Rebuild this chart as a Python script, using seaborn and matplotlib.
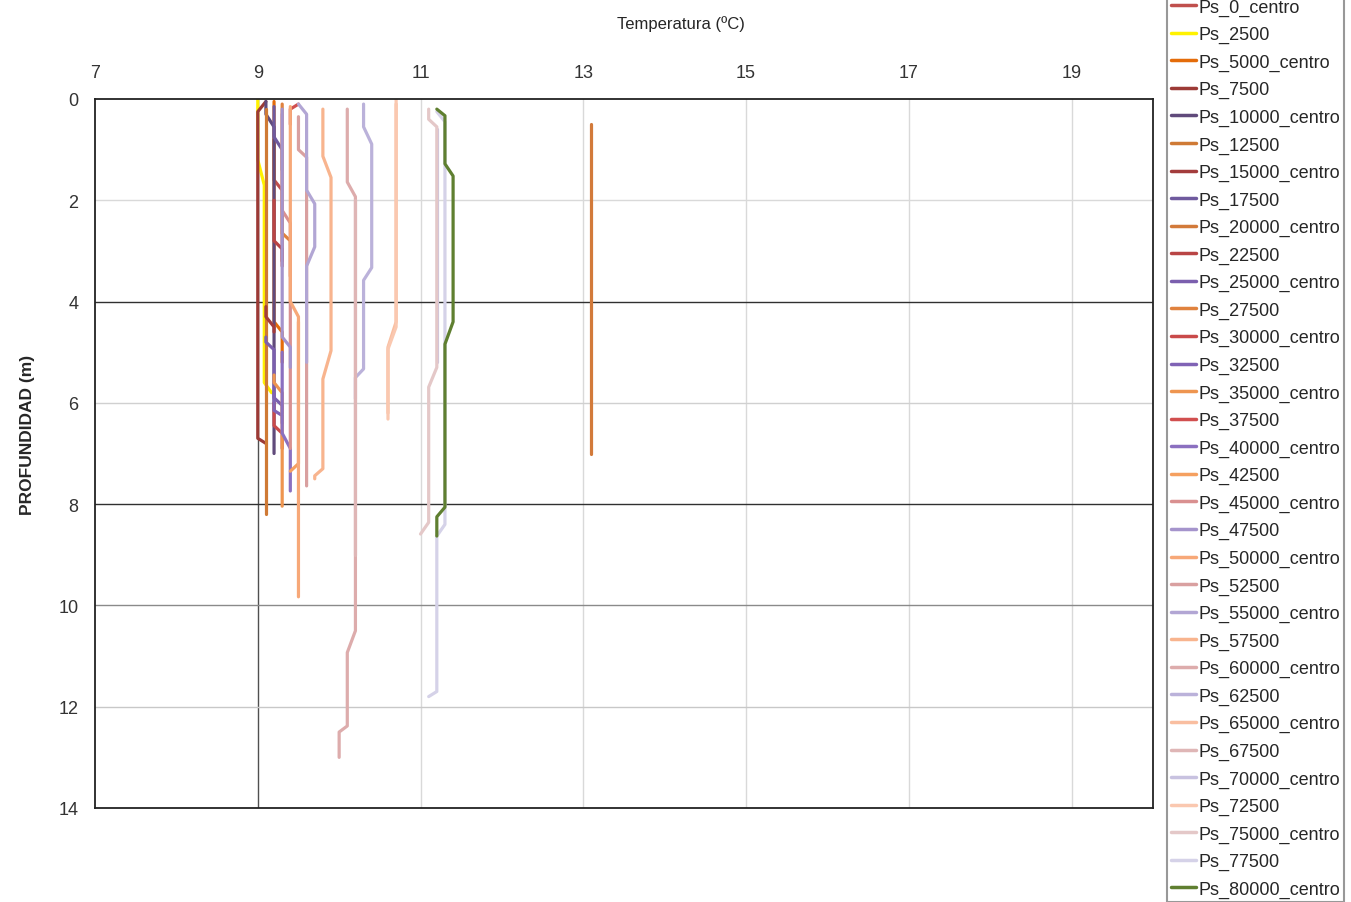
import matplotlib
matplotlib.use("Agg")
import matplotlib.pyplot as plt
from matplotlib.lines import Line2D
import seaborn as sns
import pandas as pd

# Temperature (°C) / depth (m) readings for each probe profile
ps_0_centro = [(9.2, 0.8), (9.2, 1.6), (9.3, 1.8), (9.3, 3.2)]
ps_2500 = [(9.0, 0.0), (9.0, 1.2), (9.08, 1.7), (9.08, 5.6), (9.17, 5.8)]
ps_5000_centro = [(9.2, 0.05), (9.2, 4.4), (9.3, 4.6), (9.3, 5.2)]
ps_7500 = [(9.1, 0.05), (9.0, 0.25), (9.0, 6.7), (9.1, 6.8)]
ps_10000_centro = [(9.1, 0.05), (9.1, 0.3), (9.2, 0.55), (9.2, 7.0)]
ps_12500 = [(9.1, 0.2), (9.1, 8.2)]
ps_15000_centro = [(9.1, 4.1), (9.1, 4.3), (9.2, 4.5), (9.2, 4.6)]
ps_17500 = [(9.2, 0.15), (9.2, 0.75), (9.3, 1.0), (9.3, 1.4)]
ps_20000_centro = [(13.1, 0.5), (13.1, 7.0)]
ps_22500 = [(9.2, 2.0), (9.2, 2.8), (9.3, 2.96), (9.3, 3.3)]
ps_25000_centro = [(9.1, 4.7), (9.1, 4.8), (9.2, 4.95), (9.2, 5.9), (9.3, 6.05), (9.3, 6.2)]
ps_27500 = [(9.3, 0.1), (9.3, 2.65), (9.4, 2.8), (9.4, 3.5)]
ps_30000_centro = [(9.2, 6.0), (9.2, 6.45), (9.3, 6.6), (9.3, 6.9)]
ps_32500 = [(9.2, 5.8), (9.2, 6.15), (9.3, 6.25), (9.3, 6.4)]
ps_35000_centro = [(9.2, 5.45), (9.2, 5.6), (9.3, 5.8), (9.3, 8.04)]
ps_37500 = [(9.5, 0.1), (9.4, 0.2), (9.4, 0.5)]
ps_40000_centro = [(9.3, 5.0), (9.3, 6.6), (9.4, 6.9), (9.4, 7.74)]
ps_42500 = [(9.5, 4.4), (9.5, 7.2), (9.4, 7.35)]
ps_45000_centro = [(9.3, 0.3), (9.3, 2.2), (9.4, 2.45), (9.4, 6.9)]
ps_47500 = [(9.3, 0.2), (9.3, 4.7), (9.4, 4.9), (9.4, 5.3)]
ps_50000_centro = [(9.4, 0.15), (9.4, 4.0), (9.5, 4.3), (9.5, 9.83)]
ps_52500 = [(9.5, 0.35), (9.5, 1.0), (9.6, 1.15), (9.6, 7.64)]
ps_55000_centro = [(9.5, 0.1), (9.6, 0.3), (9.6, 1.8), (9.7, 2.07), (9.7, 2.92), (9.6, 3.3), (9.6, 5.2)]
ps_57500 = [(9.8, 0.2), (9.8, 1.13), (9.9, 1.55), (9.9, 4.97), (9.8, 5.53), (9.8, 7.3), (9.7, 7.44), (9.7, 7.5)]
ps_60000_centro = [(10.1, 0.2), (10.1, 1.64), (10.2, 1.93), (10.2, 10.5), (10.1, 10.93), (10.1, 12.38), (10.0, 12.5), (10.0, 13.0)]
ps_62500 = [(10.3, 0.1), (10.3, 0.55), (10.4, 0.89), (10.4, 3.33), (10.3, 3.58), (10.3, 5.33), (10.2, 5.5), (10.2, 5.92)]
ps_65000_centro = [(10.7, 0.1), (10.7, 4.4), (10.6, 4.9), (10.6, 6.2)]
ps_67500 = [(10.2, 2.0), (10.2, 9.0)]
ps_70000_centro = [(11.2, 0.6), (11.2, 5.2)]
ps_72500 = [(10.7, 0.0), (10.7, 4.5), (10.6, 4.94), (10.6, 6.32)]
ps_75000_centro = [(11.1, 0.2), (11.1, 0.4), (11.2, 0.55), (11.2, 5.3), (11.1, 5.69), (11.1, 8.36), (11.0, 8.59)]
ps_77500 = [(11.2, 0.25), (11.3, 0.45), (11.3, 8.4), (11.2, 8.63), (11.2, 11.7), (11.1, 11.8)]
ps_80000_centro = [(11.2, 0.2), (11.3, 0.33), (11.3, 1.28), (11.4, 1.52), (11.4, 4.4), (11.3, 4.84), (11.3, 8.06), (11.2, 8.25), (11.2, 8.63)]

labels = [
    "Ps_0_centro", "Ps_2500", "Ps_5000_centro", "Ps_7500", "Ps_10000_centro",
    "Ps_12500", "Ps_15000_centro", "Ps_17500", "Ps_20000_centro", "Ps_22500",
    "Ps_25000_centro", "Ps_27500", "Ps_30000_centro", "Ps_32500", "Ps_35000_centro",
    "Ps_37500", "Ps_40000_centro", "Ps_42500", "Ps_45000_centro", "Ps_47500",
    "Ps_50000_centro", "Ps_52500", "Ps_55000_centro", "Ps_57500", "Ps_60000_centro",
    "Ps_62500", "Ps_65000_centro", "Ps_67500", "Ps_70000_centro", "Ps_72500",
    "Ps_75000_centro", "Ps_77500", "Ps_80000_centro",
]
profiles = [
    ps_0_centro, ps_2500, ps_5000_centro, ps_7500, ps_10000_centro,
    ps_12500, ps_15000_centro, ps_17500, ps_20000_centro, ps_22500,
    ps_25000_centro, ps_27500, ps_30000_centro, ps_32500, ps_35000_centro,
    ps_37500, ps_40000_centro, ps_42500, ps_45000_centro, ps_47500,
    ps_50000_centro, ps_52500, ps_55000_centro, ps_57500, ps_60000_centro,
    ps_62500, ps_65000_centro, ps_67500, ps_70000_centro, ps_72500,
    ps_75000_centro, ps_77500, ps_80000_centro,
]
colors = [
    "#c0504d", "#fff200", "#e46c0a", "#9c3a36", "#604a7b",
    "#cf7a35", "#a33c3c", "#6f5a9e", "#d27a3a", "#b94545",
    "#7b5fae", "#e0823e", "#c94a4a", "#8063b5", "#ee9550",
    "#d14f4f", "#8b70c0", "#f5a060", "#d99090", "#a594cc",
    "#f7a878", "#d9a0a0", "#b2a6d4", "#f8b48e", "#ddacac",
    "#bbb2da", "#f9bea0", "#dfb6b6", "#c8c2e0", "#fac8b0",
    "#e4c8c8", "#d5d2e8", "#5f7f30",
]

rows = []
for name, prof in zip(labels, profiles):
    for temp, depth in prof:
        rows.append({"sonda": name, "temp": temp, "depth": depth})
df = pd.DataFrame(rows)

sns.set_style("white")
plt.rcParams["font.family"] = ["Liberation Sans", "DejaVu Sans"]

fig = plt.figure(figsize=(13.51, 9.03), dpi=100)
ax = fig.add_axes([95 / 1351, 1 - 809 / 903, (1153 - 95) / 1351, (809 - 100) / 903])

# gridlines
for x in [11, 13, 15, 17, 19]:
    ax.axvline(x, color="#d9d9d9", lw=1.0, zorder=0.5)
ax.axvline(9, color="#505050", lw=1.0, zorder=0.5)
for y, c in [(2, "#d9d9d9"), (4, "#303030"), (6, "#d0d0d0"), (8, "#303030"),
             (10, "#8a8a8a"), (12, "#c8c8c8")]:
    ax.axhline(y, color=c, lw=1.0, zorder=0.5)

sns.lineplot(data=df, x="temp", y="depth", hue="sonda", hue_order=labels,
             palette=dict(zip(labels, colors)), sort=False, estimator=None,
             linewidth=2.3, legend=False, ax=ax)

ax.set_xlim(7, 20)
ax.set_ylim(14, 0)
ax.set_xticks([7, 9, 11, 13, 15, 17, 19])
ax.set_yticks([0, 2, 4, 6, 8, 10, 12, 14])
ax.xaxis.tick_top()
ax.tick_params(axis="x", length=0, pad=13, labelsize=13, labelcolor="#333333")
ax.tick_params(axis="y", length=0, pad=12, labelsize=13, labelcolor="#333333")
ax.set_xlabel("")
ax.set_ylabel("")
for side in ["left", "right", "bottom", "top"]:
    ax.spines[side].set_color("#222222")
    ax.spines[side].set_linewidth(1.3)

fig.text(681 / 1351, 1 - 24 / 903, "Temperatura (ºC)", ha="center", va="center",
         fontsize=12, color="#262626")
fig.text(28 / 1351, 1 - 435 / 903, "PROFUNDIDAD (m)", ha="center", va="center",
         rotation=90, fontsize=12.5, fontweight="bold", color="#262626")

handles = [Line2D([], [], color=c, lw=2.5) for c in colors]
leg = fig.legend(handles, labels, loc="lower left",
                 bbox_to_anchor=(1167 / 1351, 0.5 / 903), frameon=True,
                 fancybox=False, edgecolor="#7f7f7f", fontsize=13,
                 labelspacing=0.575, handlelength=1.4, handletextpad=0.15,
                 borderpad=0.2, borderaxespad=0)
leg.get_frame().set_linewidth(1.5)
for t in leg.get_texts():
    t.set_color("#262626")

fig.savefig("out.png", dpi=100)
